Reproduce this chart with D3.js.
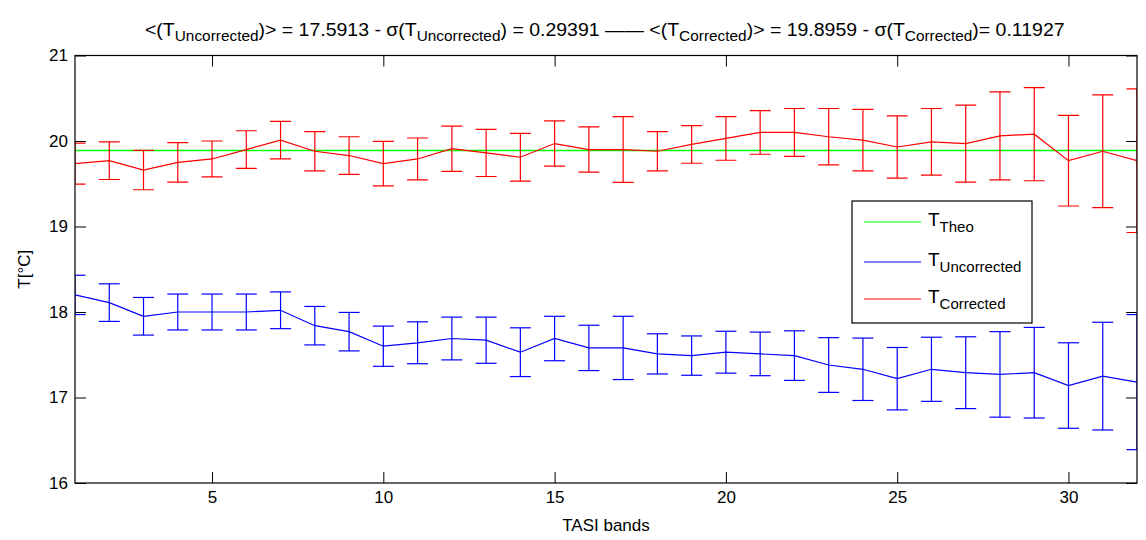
<!DOCTYPE html>
<html>
<head>
<meta charset="utf-8">
<script src="https://cdn.jsdelivr.net/npm/d3@7"></script>
<style>
  body { margin: 0; background: #fff; }
  svg { display: block; font-family: "Liberation Sans", Arial, Helvetica, sans-serif; }
</style>
</head>
<body>
<svg id="chart" width="1146" height="540"></svg>
<script>
// TASI band index
const bands = d3.range(1, 33);

// Band-wise mean temperature after correction (°C) and its standard deviation
const correctedMean = [19.735, 19.77, 19.66, 19.75, 19.79, 19.90, 20.01, 19.88, 19.83, 19.735,
                       19.79, 19.91, 19.86, 19.81, 19.97, 19.90, 19.90, 19.88, 19.96, 20.03,
                       20.10, 20.10, 20.05, 20.01, 19.93, 19.99, 19.97, 20.06, 20.08, 19.77,
                       19.88, 19.77];
const correctedStd  = [0.24, 0.22, 0.23, 0.23, 0.21, 0.22, 0.22, 0.23, 0.22, 0.26,
                       0.245, 0.265, 0.275, 0.28, 0.265, 0.265, 0.385, 0.23, 0.22, 0.255,
                       0.255, 0.28, 0.33, 0.36, 0.365, 0.39, 0.45, 0.515, 0.545, 0.53,
                       0.66, 0.84];

// Band-wise mean temperature without correction (°C) and its standard deviation
const uncorrectedMean = [18.20, 18.11, 17.95, 18.00, 18.00, 18.00, 18.02, 17.84, 17.77, 17.60,
                         17.64, 17.69, 17.67, 17.53, 17.69, 17.58, 17.58, 17.51, 17.49, 17.53,
                         17.51, 17.49, 17.38, 17.33, 17.22, 17.33, 17.29, 17.27, 17.29, 17.14,
                         17.25, 17.18];
const uncorrectedStd  = [0.23, 0.22, 0.22, 0.21, 0.21, 0.21, 0.215, 0.225, 0.225, 0.235,
                         0.245, 0.25, 0.27, 0.285, 0.26, 0.265, 0.37, 0.235, 0.23, 0.245,
                         0.255, 0.29, 0.32, 0.365, 0.365, 0.375, 0.42, 0.50, 0.53, 0.50,
                         0.63, 0.79];

// Theoretical (reference) temperature
const theoValue = 19.888;

// Axis ticks
const xTicks = [5, 10, 15, 20, 25, 30];
const yTicks = [16, 17, 18, 19, 20, 21];

const W = 1146, H = 540;
const margin = { left: 75, right: 9, top: 55.5, bottom: 57 };
const svg = d3.select("#chart");

const x = d3.scaleLinear().domain([1, 32]).range([margin.left, W - margin.right]);
const y = d3.scaleLinear().domain([16, 21]).range([H - margin.bottom, margin.top]);

const colors = { theo: "#00ff00", uncorrected: "#0000ff", corrected: "#ff0000" };

// Clip marks to the axes box
svg.append("defs").append("clipPath").attr("id", "plotClip")
  .append("rect")
  .attr("x", x.range()[0]).attr("y", y.range()[1])
  .attr("width", x.range()[1] - x.range()[0])
  .attr("height", y.range()[0] - y.range()[1]);

// Axes: ticks pointing inward on all four sides
const tickLen = 11;
const axFont = "17px";
const fmt = d3.format("d");

const gx = svg.append("g").attr("transform", `translate(0,${y.range()[0]})`)
  .call(d3.axisBottom(x).tickValues(xTicks).tickFormat(fmt).tickSize(-tickLen).tickPadding(8));
const gxTop = svg.append("g").attr("transform", `translate(0,${y.range()[1]})`)
  .call(d3.axisTop(x).tickValues(xTicks).tickSize(-tickLen).tickFormat(""));
const gy = svg.append("g").attr("transform", `translate(${x.range()[0]},0)`)
  .call(d3.axisLeft(y).tickValues(yTicks).tickFormat(fmt).tickSize(-tickLen).tickPadding(7));
const gyRight = svg.append("g").attr("transform", `translate(${x.range()[1]},0)`)
  .call(d3.axisRight(y).tickValues(yTicks).tickSize(-tickLen).tickFormat(""));

[gx, gxTop, gy, gyRight].forEach(g => {
  g.select(".domain").remove();
  g.selectAll(".tick line").attr("stroke", "#000");
  g.selectAll(".tick text").attr("fill", "#000").style("font-size", axFont)
    .style("font-family", '"Liberation Sans", Arial, sans-serif');
});

// Plotted series
const plot = svg.append("g").attr("clip-path", "url(#plotClip)");

plot.append("line")
  .attr("x1", x.range()[0]).attr("x2", x.range()[1])
  .attr("y1", y(theoValue)).attr("y2", y(theoValue))
  .attr("stroke", colors.theo).attr("stroke-width", 1.5);

const capHalf = 10.5;
function drawSeries(means, stds, color) {
  const pts = bands.map((b, i) => ({ b, m: means[i], s: stds[i] }));
  const g = plot.append("g").attr("stroke", color).attr("stroke-width", 1.2).attr("fill", "none");
  const eb = g.selectAll("g.eb").data(pts).join("g").attr("class", "eb");
  eb.append("line")
    .attr("x1", d => x(d.b)).attr("x2", d => x(d.b))
    .attr("y1", d => y(d.m + d.s)).attr("y2", d => y(d.m - d.s));
  eb.append("line")
    .attr("x1", d => x(d.b) - capHalf).attr("x2", d => x(d.b) + capHalf)
    .attr("y1", d => y(d.m + d.s)).attr("y2", d => y(d.m + d.s));
  eb.append("line")
    .attr("x1", d => x(d.b) - capHalf).attr("x2", d => x(d.b) + capHalf)
    .attr("y1", d => y(d.m - d.s)).attr("y2", d => y(d.m - d.s));
  g.append("path")
    .attr("d", d3.line().x(d => x(d.b)).y(d => y(d.m))(pts));
}
drawSeries(uncorrectedMean, uncorrectedStd, colors.uncorrected);
drawSeries(correctedMean, correctedStd, colors.corrected);

// Axes box
svg.append("rect")
  .attr("x", x.range()[0]).attr("y", y.range()[1])
  .attr("width", x.range()[1] - x.range()[0])
  .attr("height", y.range()[0] - y.range()[1])
  .attr("fill", "none").attr("stroke", "#000").attr("stroke-width", 1.2);

// Axis labels
svg.append("text")
  .attr("x", (x.range()[0] + x.range()[1]) / 2).attr("y", 531)
  .attr("text-anchor", "middle").style("font-size", "17px")
  .text("TASI bands");

svg.append("text")
  .attr("transform", `translate(30,${(y.range()[0] + y.range()[1]) / 2}) rotate(-90)`)
  .attr("text-anchor", "middle").style("font-size", "17px")
  .text("T[°C]");

// Rich text helper: parts are [text, isSubscript]
function richText(sel, parts, size, subSize, subShift) {
  let sub = false;
  parts.forEach(([t, isSub]) => {
    const ts = sel.append("tspan").text(t).style("font-size", isSub ? subSize : size);
    if (isSub && !sub) ts.attr("dy", subShift);
    if (!isSub && sub) ts.attr("dy", -subShift);
    sub = isSub;
  });
}

// Title, condensed horizontally to span the header line
const title = svg.append("text").attr("x", 0).attr("y", 36);
richText(title, [
  ["<(T", false], ["Uncorrected", true], [")> = 17.5913 - σ(T", false], ["Uncorrected", true],
  [") = 0.29391 —— <(T", false], ["Corrected", true], [")> = 19.8959 - σ(T", false],
  ["Corrected", true], [")= 0.11927", false]
], "19px", "15px", 5);
{
  const bb = title.node().getBBox();
  const left = 145, right = 1065;
  const k = (right - left) / bb.width;
  title.attr("transform", `translate(${left - bb.x * k},0) scale(${k},1)`);
}

// Legend
const legend = svg.append("g");
legend.append("rect")
  .attr("x", 852).attr("y", 201).attr("width", 180).attr("height", 122)
  .attr("fill", "#fff").attr("stroke", "#000").attr("stroke-width", 1.2);
const legendItems = [
  { label: "Theo", color: colors.theo, yy: 222 },
  { label: "Uncorrected", color: colors.uncorrected, yy: 262 },
  { label: "Corrected", color: colors.corrected, yy: 299 }
];
legendItems.forEach(it => {
  legend.append("line")
    .attr("x1", 864).attr("x2", 921).attr("y1", it.yy).attr("y2", it.yy)
    .attr("stroke", it.color).attr("stroke-width", 1.2);
  const t = legend.append("text").attr("x", 928).attr("y", it.yy + 4);
  richText(t, [["T", false], [it.label, true]], "19px", "15px", 6);
});
</script>
</body>
</html>
